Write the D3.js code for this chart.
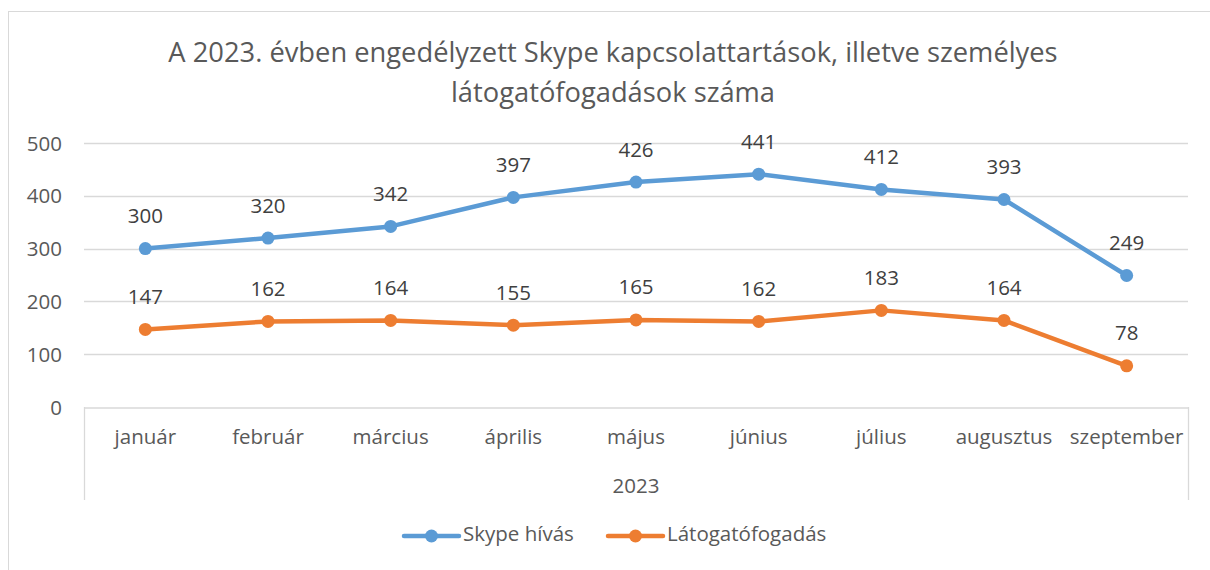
<!DOCTYPE html>
<html><head><meta charset="utf-8">
<script src="https://cdn.jsdelivr.net/npm/d3@7"></script>
<style>body{margin:0;background:#fff}svg{display:block}</style>
</head><body>
<script>
const months = ["január","február","március","április","május","június","július","augusztus","szeptember"];
const skype = [300,320,342,397,426,441,412,393,249];
const latogato = [147,162,164,155,165,162,183,164,78];
const seriesNames = ["Skype hívás","Látogatófogadás"];
const seriesColors = ["#5B9BD5","#ED7D31"];
const yTicks = [0,100,200,300,400,500];
const groupLabel = "2023";
const titleLines = ["A 2023. évben engedélyzett Skype kapcsolattartások, illetve személyes","látogatófogadások száma"];

(function(){
const W=1210,H=570;
const font="'Open Sans', sans-serif";
const fs=20.5;
const svg=d3.select("body").append("svg").attr("width",W).attr("height",H);
svg.append("rect").attr("x",8.5).attr("y",11.5).attr("width",1220).attr("height",600)
  .attr("fill","#fff").attr("stroke","#d9d9d9").attr("stroke-width",1);

const pLeft=84,pRight=1188,pTop=143,pBottom=407;
const x=d3.scaleBand().domain(months).range([pLeft,pRight]);
const y=d3.scaleLinear().domain([0,500]).range([pBottom,pTop]);

svg.append("g").selectAll("text").data(titleLines).join("text")
  .attr("x",613).attr("y",(d,i)=>62+i*40).attr("text-anchor","middle")
  .attr("font-family",font).attr("font-size",27.3).attr("fill","#595959").text(d=>d);

svg.append("g").selectAll("line").data(yTicks.filter(d=>d>0)).join("line")
  .attr("x1",pLeft).attr("x2",pRight).attr("y1",d=>Math.round(y(d))+0.5).attr("y2",d=>Math.round(y(d))+0.5)
  .attr("stroke","#d9d9d9").attr("stroke-width",1.3);

const yAxis=d3.axisLeft(y).tickValues(yTicks).tickSize(0).tickPadding(0);
const ya=svg.append("g").attr("transform",`translate(62,0)`).call(yAxis);
ya.select(".domain").remove();
ya.selectAll("text").attr("font-family",font).attr("font-size",fs).attr("fill","#595959").attr("dy","0.35em");

const xa=svg.append("g").attr("transform",`translate(0,${Math.round(pBottom)+0.5})`)
  .call(d3.axisBottom(x).tickSize(0).tickPadding(0));
xa.select(".domain").attr("stroke","#d9d9d9").attr("stroke-width",1.3);
xa.selectAll("text").attr("font-family",font).attr("font-size",fs).attr("fill","#595959")
  .attr("dy",null).attr("y",31).attr("dominant-baseline","middle");
svg.append("g").selectAll("line").data([pLeft,pRight]).join("line")
  .attr("x1",d=>d+0.5).attr("x2",d=>d+0.5).attr("y1",pBottom).attr("y2",500)
  .attr("stroke","#d9d9d9").attr("stroke-width",1.3);
svg.append("text").attr("x",(pLeft+pRight)/2).attr("y",488).attr("text-anchor","middle")
  .attr("dominant-baseline","middle")
  .attr("font-family",font).attr("font-size",fs).attr("fill","#595959").text(groupLabel);

const data=[skype,latogato];
const line=d3.line().x((d,i)=>x(months[i])+x.bandwidth()/2).y(d=>y(d));
data.forEach((vals,si)=>{
  const g=svg.append("g");
  g.append("path").datum(vals).attr("d",line).attr("fill","none")
    .attr("stroke",seriesColors[si]).attr("stroke-width",4.5).attr("stroke-linejoin","round").attr("stroke-linecap","round");
  g.selectAll("circle").data(vals).join("circle")
    .attr("cx",(d,i)=>x(months[i])+x.bandwidth()/2).attr("cy",d=>y(d)).attr("r",6.5)
    .attr("fill",seriesColors[si]);
  g.selectAll("text").data(vals).join("text")
    .attr("x",(d,i)=>x(months[i])+x.bandwidth()/2).attr("y",d=>y(d)-31)
    .attr("dominant-baseline","middle")
    .attr("text-anchor","middle").attr("font-family",font).attr("font-size",fs).attr("fill","#404040").text(d=>d);
});

const legX=[404,608];
seriesNames.forEach((n,i)=>{
  const g=svg.append("g").attr("transform",`translate(${legX[i]},536)`);
  g.append("line").attr("x1",0).attr("x2",55).attr("y1",0).attr("y2",0)
    .attr("stroke",seriesColors[i]).attr("stroke-width",4.5).attr("stroke-linecap","round");
  g.append("circle").attr("cx",27.5).attr("cy",0).attr("r",6.5).attr("fill",seriesColors[i]);
  g.append("text").attr("x",59).attr("y",0).attr("dominant-baseline","middle").attr("font-family",font)
    .attr("font-size",fs).attr("fill","#595959").text(n);
});
})();
</script>
</body></html>
